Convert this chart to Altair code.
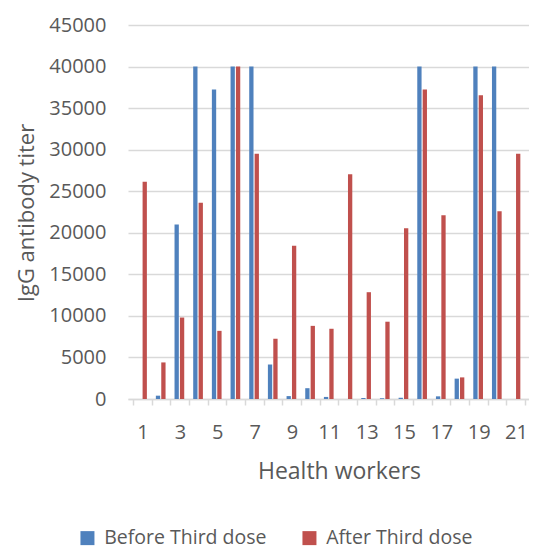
import altair as alt
import pandas as pd

workers = list(range(1, 23))
before = [0, 400, 21000, 40000, 37250, 40000, 40000, 4150, 350, 1300, 250, 0,
          120, 100, 150, 40000, 320, 2450, 40000, 40000, 0, 9000]
after = [26150, 4400, 9800, 23600, 8200, 40000, 29500, 7250, 18450, 8800, 8450, 27050,
         12850, 9300, 20550, 37250, 22100, 2600, 36550, 22600, 29500, None]
series = ["Before Third dose", "After Third dose"]
colors = ["#4F81BD", "#C0504D"]
y_ticks = list(range(0, 45001, 5000))
x_bounds = [i + 0.5 for i in range(0, 22)]

rows = []
for w, b, a in zip(workers, before, after):
    rows.append({"worker": w, "series": series[0], "value": b})
    rows.append({"worker": w, "series": series[1], "value": a})
df = pd.DataFrame(rows)

TXT = "#595959"
GRID = "#D9D9D9"

x_enc = alt.X(
    "worker:Q",
    scale=alt.Scale(domain=[0.5, 21.44], nice=False, zero=False),
    axis=alt.Axis(
        values=x_bounds,
        labelExpr="(datum.value + 0.5) % 2 == 1 ? format(datum.value + 0.5, 'd') : ''",
        labelOffset=9.57,
        labelAlign="center",
        labelBaseline="alphabetic",
        labelFlush=False,
        labelOverlap=False,
        labelPadding=33,
        labelFontSize=20,
        labelColor=TXT,
        grid=False,
        domainColor=GRID,
        domainWidth=1.5,
        tickColor=GRID,
        tickWidth=1.5,
        tickSize=6,
        title="Health workers",
        titleFontSize=23,
        titleFontWeight="normal",
        titleColor=TXT,
        titleBaseline="alphabetic",
        titleX=211,
        titleY=79,
    ),
)

y_enc = alt.Y(
    "value:Q",
    scale=alt.Scale(domain=[0, 45000], nice=False),
    axis=alt.Axis(
        values=y_ticks,
        format="d",
        grid=True,
        gridColor=GRID,
        gridWidth=1.5,
        domain=False,
        ticks=False,
        labelPadding=22,
        labelFontSize=20,
        labelColor=TXT,
        title="IgG antibody titer",
        titleFontSize=22,
        titleFontWeight="normal",
        titleColor=TXT,
        titleAngle=270,
        titleAlign="center",
        titleBaseline="middle",
        titleX=-102,
        titleY=187.5,
    ),
)

color_enc = alt.Color(
    "series:N",
    scale=alt.Scale(domain=series, range=colors),
    sort=series,
    legend=alt.Legend(
        title=None,
        orient="none",
        legendX=-50.3,
        legendY=503,
        direction="horizontal",
        symbolType="square",
        symbolSize=196,
        symbolStrokeWidth=0,
        labelFontSize=19.5,
        labelColor=TXT,
        labelOffset=7,
        labelLimit=400,
        columnPadding=33,
        padding=0,
    ),
)

base = alt.Chart(df)
blue = base.transform_filter(alt.datum.series == series[0]).mark_bar(
    size=4.3, xOffset=-3, clip=True
).encode(x=x_enc, y=y_enc, color=color_enc)
red = base.transform_filter(alt.datum.series == series[1]).mark_bar(
    size=4.3, xOffset=2.4, clip=True
).encode(x=x_enc, y=y_enc, color=color_enc)

chart = alt.layer(blue, red).properties(
    width=401,
    height=374,
    autosize=alt.AutoSizeParams(type="none"),
    padding={"left": 120, "top": 17, "right": 0, "bottom": 150},
).configure(font="Open Sans").configure_view(stroke=None)

chart.save("out.html", embed_options={"renderer": "svg", "actions": False})
